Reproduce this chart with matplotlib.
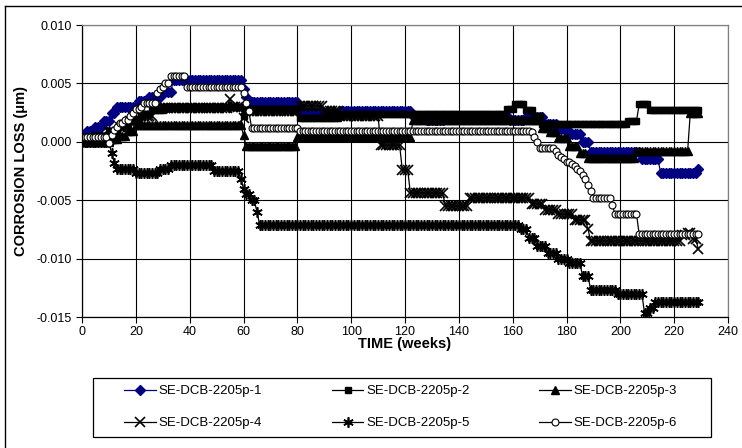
import numpy as np
import matplotlib
matplotlib.use("Agg")
import matplotlib.pyplot as plt
from matplotlib.lines import Line2D
from matplotlib.patches import Rectangle

plt.rcParams["font.family"] = ["Liberation Sans", "DejaVu Sans"]
plt.rcParams["axes.unicode_minus"] = False

W, H = 742, 448

# series stored as run-length steps: level (um) and how many weekly readings stay at it
s1_levels = [0.0006, 0.0009, 0.0013, 0.0018, 0.0025, 0.0030, 0.0035, 0.0038, 0.0043, 0.0053,
             0.0045, 0.0038, 0.0034, 0.0025, 0.0024, 0.0026, 0.0022, 0.0019, 0.0022, 0.0019,
             0.0021, 0.0015, 0.0011, 0.0007, 0.0000, -0.0009, -0.0015, -0.0027, -0.0023]
s1_runs = [2, 3, 3, 3, 2, 8, 4, 5, 4, 26,
           1, 1, 19, 9, 6, 27, 5, 7, 24, 6,
           7, 5, 4, 5, 3, 19, 7, 14, 1]

s2_levels = [0.0003, 0.0005, 0.0009, 0.0014, 0.0019, 0.0024, 0.0027, 0.0030, 0.0022, 0.0028,
             0.0020, 0.0024, 0.0028, 0.0032, 0.0027, 0.0022, 0.0015, 0.0018, 0.0032, 0.0027]
s2_runs = [5, 5, 4, 4, 4, 4, 5, 29, 1, 20,
           15, 62, 3, 4, 3, 3, 32, 4, 4, 19]

s3_levels = [0.0000, 0.0002, 0.0005, 0.0009, 0.0014, 0.0006, -0.0004, 0.0004, 0.0019, 0.0012,
             0.0008, 0.0003, -0.0004, -0.0010, -0.0014, -0.0008, 0.0025]
s3_runs = [11, 3, 3, 3, 40, 1, 19, 43, 48, 3,
           3, 4, 4, 3, 18, 20, 4]

s4_levels = [0.0002, 0.0004, 0.0008, 0.0013, 0.0018, 0.0022, 0.0029, 0.0037, 0.0030, 0.0020,
             0.0026, 0.0031, 0.0026, 0.0022, -0.0003, -0.0024, -0.0044, -0.0055, -0.0048, -0.0053,
             -0.0058, -0.0062, -0.0067, -0.0075, -0.0085, -0.0080, -0.0078, -0.0083, -0.0092]
s4_runs = [6, 4, 4, 4, 4, 5, 28, 1, 4, 1,
           20, 9, 6, 15, 8, 3, 13, 9, 23, 5,
           5, 6, 5, 1, 34, 2, 2, 2, 1]

s5_levels = [0.0000, -0.0010, -0.0018, -0.0023, -0.0027, -0.0023, -0.0020, -0.0025, -0.0032, -0.0040,
             -0.0045, -0.0050, -0.0060, -0.0071, -0.0075, -0.0082, -0.0089, -0.0095, -0.0100, -0.0104,
             -0.0115, -0.0127, -0.0130, -0.0147, -0.0142, -0.0137]
s5_runs = [11, 1, 1, 7, 9, 4, 16, 10, 1, 1,
           2, 2, 1, 97, 3, 3, 4, 4, 4, 5,
           3, 10, 10, 2, 2, 17]

s6_levels = [0.0004, -0.0001, 0.0006, 0.0010, 0.0013, 0.0016, 0.0019, 0.0022, 0.0025, 0.0028,
             0.0030, 0.0033, 0.0042, 0.0045, 0.0047, 0.0050, 0.0056, 0.0047, 0.0042, 0.0033,
             0.0026, 0.0012, 0.0009, 0.0008, 0.0004, 0.0000, -0.0005, -0.0008, -0.0011, -0.0013,
             -0.0015, -0.0017, -0.0019, -0.0021, -0.0023, -0.0025, -0.0028, -0.0032, -0.0037, -0.0042,
             -0.0048, -0.0054, -0.0062, -0.0079]
s6_runs = [10, 1, 1, 1, 1, 2, 2, 1, 1, 2,
           1, 5, 1, 1, 1, 2, 6, 21, 1, 1,
           1, 18, 86, 1, 1, 1, 6, 1, 1, 1,
           1, 2, 1, 1, 1, 1, 1, 1, 1, 1,
           7, 1, 9, 23]

labels = ["SE-DCB-2205p-1", "SE-DCB-2205p-2", "SE-DCB-2205p-3",
          "SE-DCB-2205p-4", "SE-DCB-2205p-5", "SE-DCB-2205p-6"]

series = [np.repeat(s1_levels, s1_runs), np.repeat(s2_levels, s2_runs),
          np.repeat(s3_levels, s3_runs), np.repeat(s4_levels, s4_runs),
          np.repeat(s5_levels, s5_runs), np.repeat(s6_levels, s6_runs)]

styles = [
    dict(color="#000080", marker="D", ms=5, mfc="#000080", mec="#000080"),
    dict(color="black", marker="s", ms=5, mfc="black", mec="black"),
    dict(color="black", marker="^", ms=6, mfc="black", mec="black"),
    dict(color="black", marker="x", ms=6.5, mew=1.2),
    dict(color="black", marker=(6, 2, 0), ms=7.5, mew=1.2),
    dict(color="black", marker="o", ms=5, mfc="white", mec="black", mew=0.8),
]

fig = plt.figure(figsize=(W / 100, H / 100), dpi=100)
ax = fig.add_axes([82 / W, 1 - 317 / H, 646 / W, 292 / H])

handles = []
for vals, lab, st in zip(series, labels, styles):
    weeks = np.arange(len(vals))
    h, = ax.plot(weeks, vals, lw=0.9, label=lab, **st)
    handles.append(h)

ax.set_xlim(0, 240)
ax.set_ylim(-0.015, 0.010)
ax.set_xticks(np.arange(0, 241, 20))
ax.set_yticks(np.arange(-0.015, 0.0101, 0.005))
ax.yaxis.set_major_formatter(plt.FuncFormatter(lambda v, p: f"{v:.3f}"))
ax.grid(True, color="black", lw=0.8)
ax.set_axisbelow(True)
ax.tick_params(direction="out", length=4, width=0.8, labelsize=9, colors="black")
ax.tick_params(axis="x", pad=2.5)
for side in ["top", "right"]:
    ax.spines[side].set_color("#808080")
for side in ["left", "bottom"]:
    ax.spines[side].set_color("black")
for sp in ax.spines.values():
    sp.set_linewidth(0.9)

ax.set_xlabel("TIME (weeks)", fontsize=10.5, fontweight="bold", labelpad=-1)
ax.set_ylabel("CORROSION LOSS (\u03bcm)", fontsize=10.5, fontweight="bold", labelpad=6)

# legend laid out row by row like the original, box drawn separately
order = [0, 3, 1, 4, 2, 5]
leg = fig.legend([handles[i] for i in order], [labels[i] for i in order],
                 ncol=3, loc="upper left", bbox_to_anchor=(124 / W, 1 - 385 / H),
                 fontsize=9.5, frameon=False, borderpad=0, borderaxespad=0,
                 handlelength=2.4, handletextpad=0.2, columnspacing=5.3,
                 labelspacing=1.5)
fig.add_artist(Rectangle((93 / W, 1 - 437 / H), (711 - 93) / W, (437 - 378) / H,
                         transform=fig.transFigure, fill=False, lw=0.9, edgecolor="black"))

# outer chart border (only top and left edges show in the original)
fig.add_artist(Line2D([5 / W, 1.0], [1 - 6 / H, 1 - 6 / H], transform=fig.transFigure,
                      color="black", lw=1.0))
fig.add_artist(Line2D([5 / W, 5 / W], [0.0, 1 - 6 / H], transform=fig.transFigure,
                      color="black", lw=1.0))

fig.savefig("out.png", dpi=100)
